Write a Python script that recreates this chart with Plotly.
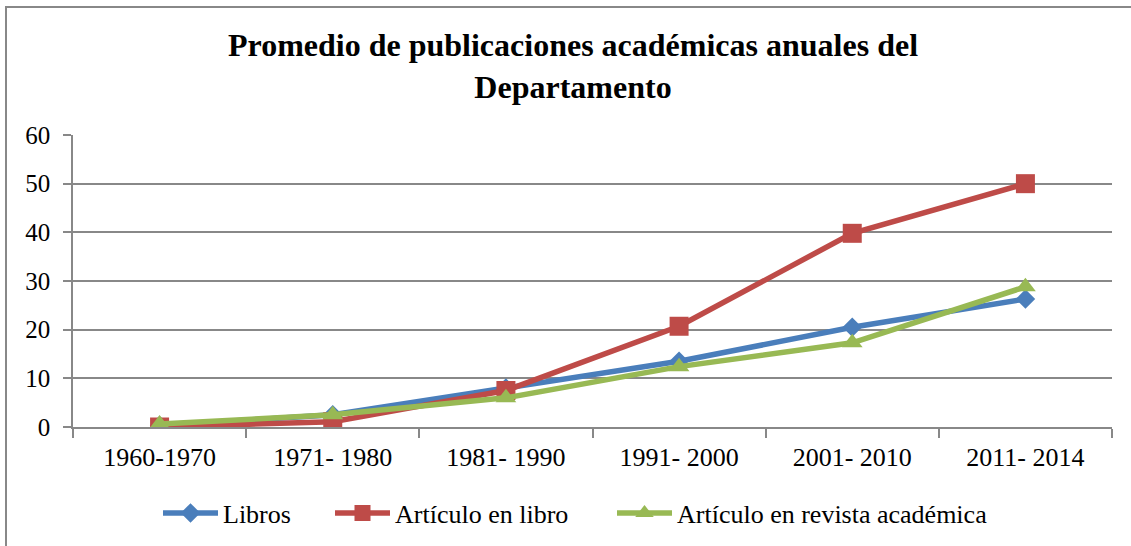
import plotly.graph_objects as go

categories = ["1960-1970", "1971- 1980", "1981- 1990", "1991- 2000", "2001- 2010", "2011- 2014"]
libros = [0.3, 2.5, 8.0, 13.5, 20.5, 26.3]
articulo_libro = [0.0, 1.1, 7.5, 20.7, 39.8, 50.0]
articulo_revista = [0.6, 2.5, 6.0, 12.4, 17.3, 28.8]
y_ticks = [0, 10, 20, 30, 40, 50, 60]

SERIF = "Liberation Serif, Times New Roman, serif"

L, R, T, B = 73, 19, 135, 119
W, H = 1131, 546
pw, ph = W - L - R, H - T - B


def px(xpix):
    return (xpix - L) / pw


def py(ypix):
    return (H - B - ypix) / ph


fig = go.Figure()
fig.add_trace(go.Scatter(x=categories, y=libros, name="Libros", mode="lines+markers",
                         line=dict(color="#4A7EBB", width=5.5),
                         marker=dict(symbol="diamond", size=15, color="#4A7EBB"),
                         legend="legend"))
fig.add_trace(go.Scatter(x=categories, y=articulo_libro, name="Artículo en libro", mode="lines+markers",
                         line=dict(color="#BE4B48", width=5.5),
                         marker=dict(symbol="square", size=19, color="#BE4B48"),
                         legend="legend2"))
fig.add_trace(go.Scatter(x=categories, y=articulo_revista, name="Artículo en revista académica", mode="lines+markers",
                         line=dict(color="#98B954", width=5.5),
                         marker=dict(symbol="triangle-up", size=18, color="#98B954"),
                         legend="legend3"))

legend_common = dict(orientation="h", xanchor="left", yanchor="middle", y=py(513),
                     font=dict(size=26, family=SERIF, color="black"),
                     itemwidth=55, bgcolor="rgba(0,0,0,0)")

fig.update_layout(
    width=W, height=H,
    margin=dict(l=L, r=R, t=T, b=B, autoexpand=False),
    paper_bgcolor="white", plot_bgcolor="white",
    font=dict(family=SERIF, color="black"),
    title=dict(text="<b>Promedio de publicaciones académicas anuales del<br>Departamento</b>",
               x=573 / W, xanchor="center", y=1 - 56 / H, yanchor="middle",
               font=dict(size=32, family=SERIF, color="black")),
    xaxis=dict(type="category", tickson="boundaries", showgrid=False, automargin=False,
               showline=True, linecolor="#888888", linewidth=1.5,
               ticks="outside", ticklen=9, tickcolor="#888888", tickwidth=1.5,
               ticklabelstandoff=6,
               tickfont=dict(size=26, family=SERIF, color="black"), range=[-0.5, 5.5]),
    yaxis=dict(range=[0, 60], tickvals=y_ticks, showgrid=True, gridcolor="#888888", gridwidth=1.5,
               showline=True, linecolor="#888888", linewidth=1.5, zeroline=False, automargin=False,
               ticks="outside", ticklen=8, tickcolor="#888888", tickwidth=1.5,
               ticklabelstandoff=8,
               tickfont=dict(size=25, family=SERIF, color="black")),
    legend=dict(legend_common, x=px(158)),
    legend2=dict(legend_common, x=px(330)),
    legend3=dict(legend_common, x=px(612)),
    showlegend=True,
)

fig.add_shape(type="rect", xref="paper", yref="paper",
              x0=px(6), x1=px(W + 10), y0=py(H + 10), y1=py(7),
              line=dict(color="#888888", width=2), layer="below")

fig.write_html("out.html", config={"displayModeBar": False},
               post_script="document.body.style.margin='0';document.body.style.overflow='hidden';")
